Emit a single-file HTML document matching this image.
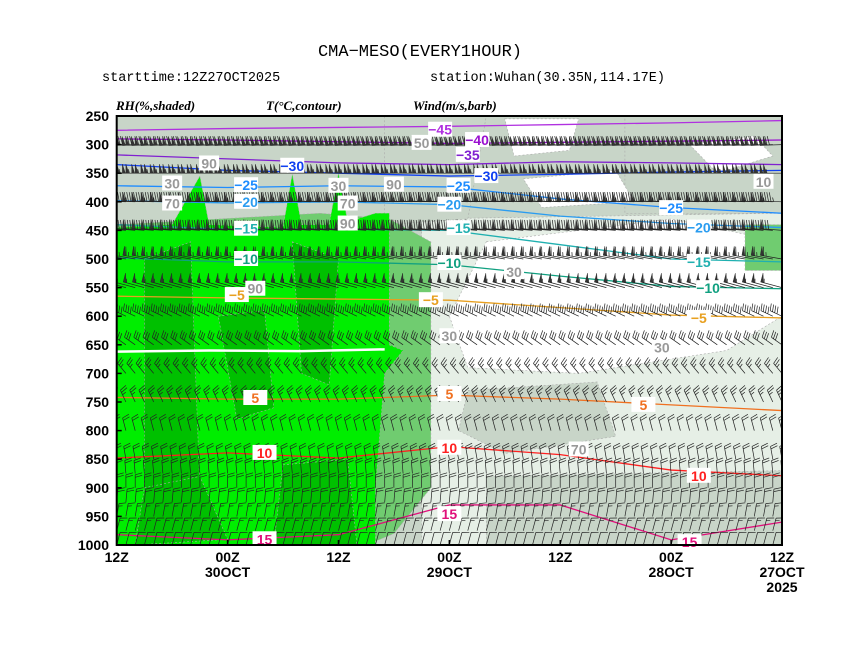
<!DOCTYPE html>
<html><head><meta charset="utf-8"><style>
html,body{margin:0;padding:0;background:#fff;}
svg{display:block;}
</style></head><body>
<svg id="chart" width="860" height="664" viewBox="0 0 860 664" style="font-family:'Liberation Sans',sans-serif">
<defs><clipPath id="plotclip"><rect x="116.7" y="116" width="665.3" height="429"/></clipPath></defs>
<text x="420" y="56" text-anchor="middle" style="font-family:'Liberation Mono',monospace;font-size:17px">CMA−MESO(EVERY1HOUR)</text>
<text x="102" y="81" style="font-family:'Liberation Mono',monospace;font-size:13.5px">starttime:12Z27OCT2025</text>
<text x="430" y="81" style="font-family:'Liberation Mono',monospace;font-size:13.5px">station:Wuhan(30.35N,114.17E)</text>
<text x="116" y="110" style="font-family:'Liberation Serif',serif;font-size:13px;font-weight:bold;font-style:italic">RH(%,shaded)</text>
<text x="266" y="110" style="font-family:'Liberation Serif',serif;font-size:13px;font-weight:bold;font-style:italic">T(°C,contour)</text>
<text x="413" y="110" style="font-family:'Liberation Serif',serif;font-size:13px;font-weight:bold;font-style:italic">Wind(m/s,barb)</text>
<g id="shade" clip-path="url(#plotclip)"></g>
<g id="contours" clip-path="url(#plotclip)"></g>
<g id="barbs" clip-path="url(#plotclip)"></g>
<g id="labels"></g>
<rect x="116.7" y="116" width="665.3" height="429" fill="none" stroke="#000" stroke-width="2"/>
<g id="axes"></g>
</svg>
<script>
// ---- data ----
const pressureTicks = [250,300,350,400,450,500,550,600,650,700,750,800,850,900,950,1000];
const hourTicks = [0,12,24,36,48,60,72];
const hourTickLabels = [["12Z"],["00Z","30OCT"],["12Z"],["00Z","29OCT"],["12Z"],["00Z","28OCT"],["12Z","27OCT","2025"]];
const contourHours = [0,12,24,36,48,60,72];
const contourLevels = [-45,-40,-35,-30,-25,-20,-15,-10,-5,5,10,15];
const contourColors = ["#b030e0","#9a10d0","#8020d0","#1040f0","#1e8cff","#2a9cf0","#20b0b0","#10a080","#e8a020","#f07020","#ff2020","#e0107a"];
const contourP = [
 [275,272,270,268,265,262,258],
 [290,292,295,298,296,294,292],
 [318,325,332,335,330,332,335],
 [335,345,350,355,352,348,345],
 [372,375,372,374,395,410,420],
 [398,402,400,405,425,438,445],
 [440,448,448,450,475,500,505],
 [498,505,505,510,530,548,552],
 [565,568,570,572,585,598,603],
 [742,745,745,738,745,755,765],
 [848,839,848,828,842,869,879],
 [982,991,982,930,930,991,960]];
const contourLabelPos = [[[35,274]],[[39,292]],[[38,318]],[[19,337],[40,355]],[[14,371],[37,372],[60,411]],[[14,400],[36,405],[63,445]],[[14,447],[37,446],[63,505]],[[14,500],[36,507],[64,551]],[[13,563],[34,572],[63,603]],[[15,743],[36,736],[57,755]],[[16,839],[36,830],[63,879]],[[16,990],[36,946],[62,995]]];
const rhLabels = [["90",10,333],["30",6,368],["70",6,403],["90",25,438],["90",15,552],["30",24,372],["70",25,403],["30",43,523],["30",36,635],["30",59,655],["70",50,833],["90",30,370],["10",70,365],["50",33,297]];
const rhLight = [[33,430],[72,420],[72,1000],[33,1000]];
const rhGrayPatches = [[[40,880],[72,870],[72,1000],[40,1000]],[[38,730],[52,715],[54,810],[42,840],[37,800]],[[29,250],[40,250],[38,430],[29,440]],[[55,250],[72,250],[72,420],[55,420]]];
const rhWhite = [[[40,470],[60,430],[72,470],[72,600],[66,660],[50,700],[38,690],[36,600]],[[42,255],[50,255],[49,310],[43,320]],[[62,300],[69,285],[71,320],[65,350]],[[44,360],[54,345],[56,400],[46,410]]];
const rhMid = [[22,420],[29.5,430],[34,470],[34,900],[30,980],[27,1000],[0,1000],[0,440]];
const rhMid2 = [[68,440],[72,440],[72,520],[68,520]];
const rhBright = [[0,445],[6,440],[9,355],[10,440],[18,445],[19,352],[20,440],[23,440],[24,350],[25,435],[28,420],[29.5,420],[29.5,650],[31,660],[29,700],[28.5,800],[28,900],[28,1000],[0,1000]];
const rhDark = [[[3,500],[8,470],[9,900],[5,960],[3,900]],[[11,600],[16,590],[17,760],[13,780]],[[19,470],[24,500],[23,720],[20,700]],[[3,900],[9,880],[12,990],[2,1000]],[[18,860],[25,850],[26,1000],[17,1000]]];
const barbLevels = [300,350,400,450,500,550,600,650,700,750,800,850,875,900,925,950,975,1000];
const barbSpeed = [48,42,38,32,26,22,16,13,11,10,9,9,8,8,8,7,6,5];
const barbDir = [268,270,272,275,280,285,295,305,320,335,345,350,355,0,5,10,15,15];
// ---- axes ----
const X0=116.7,X1=782,Y0=116,Y1=545;
const xS=h=>X0+(X1-X0)*h/72;
const yS=p=>Y0+(Y1-Y0)*(p-250)/750;
const NS="http://www.w3.org/2000/svg";
function mk(tag,attrs,parent){const e=document.createElementNS(NS,tag);for(const k in attrs)e.setAttribute(k,attrs[k]);parent.appendChild(e);return e;}
const shade=document.getElementById('shade'),cont=document.getElementById('contours'),barbs=document.getElementById('barbs'),labels=document.getElementById('labels'),axes=document.getElementById('axes');
const bg=mk('rect',{x:X0,y:Y0,width:X1-X0,height:Y1-Y0,fill:'#c8d5c8'},shade);


function poly(pts,fill,name){const e=mk('polygon',{points:pts.map(q=>xS(q[0])+','+yS(q[1])).join(' '),fill:fill,stroke:'#aaa','stroke-width':0.6,'stroke-dasharray':'2,2'},shade);

}
poly(rhLight,'#e6efe6','rh-low-region');
rhGrayPatches.forEach(g=>poly(g,'#c8d5c8','rh-mid-region'));
rhWhite.forEach(w=>poly(w,'#ffffff','rh-dry-region'));
poly(rhMid,'#70cc70','rh-80-region');
poly(rhMid2,'#70cc70','rh-80-region-right');
poly(rhBright,'#00ee00','rh-90-region');
rhDark.forEach(d=>poly(d,'#00c000','rh-95-region'));
const fz=mk('polyline',{points:[[0,662],[10,660],[20,661],[29,658]].map(q=>xS(q[0])+','+yS(q[1])).join(' '),fill:'none',stroke:'#fff','stroke-width':2.5},cont);


contourLevels.forEach((lv,i)=>{
 const pts=contourHours.map((h,j)=>xS(h)+','+yS(contourP[i][j])).join(' ');
 const l=mk('polyline',{points:pts,fill:'none',stroke:contourColors[i],'stroke-width':1.3},cont);
 
 
 contourLabelPos[i].forEach(pp=>{
  const x=xS(pp[0]),y=yS(pp[1]);const t=String(lv).replace('-','−');
  const r=mk('rect',{x:x-12,y:y-8,width:24,height:15,fill:'#fff'},labels);
  
  
  const tx=mk('text',{x:x,y:y+5,'text-anchor':'middle','font-size':14,'font-weight':'bold',fill:contourColors[i]},labels);
  tx.textContent=t;
  
  
 });
});
rhLabels.forEach(r=>{
 const x=xS(r[1]),y=yS(r[2]);
 const b=mk('rect',{x:x-10,y:y-8,width:20,height:15,fill:'#fff'},labels);
 
 
 const t=mk('text',{x:x,y:y+5,'text-anchor':'middle','font-size':14,'font-weight':'bold',fill:'#999'},labels);
 t.textContent=r[0];
 
 
});
let d='',dp='';
const f=v=>v.toFixed(1);
barbLevels.forEach((p,i)=>{
 const sp=barbSpeed[i],dir=barbDir[i]*Math.PI/180;
 const L=sp>20?22:13;
 const ux=Math.sin(dir),uy=-Math.cos(dir);
 const px=-uy,py=ux;
 const bl=sp>20?9:7;
 for(let h=0;h<=72;h++){
  const x=xS(h),y=yS(p);
  const ex=x+ux*L,ey=y+uy*L;
  d+=`M${f(x)},${f(y)}L${f(ex)},${f(ey)}`;
  let s=sp,k=0;
  while(s>=20){const bx=ex-ux*k,by=ey-uy*k;dp+=`M${f(bx)},${f(by)}l${f(px*bl)},${f(py*bl)}L${f(bx-ux*3)},${f(by-uy*3)}Z`;k+=3.5;s-=20;}
  while(s>=4){const bx=ex-ux*k,by=ey-uy*k;d+=`M${f(bx)},${f(by)}l${f(px*bl+ux*2)},${f(py*bl+uy*2)}`;s-=4;k+=2.5;}
  if(s>=2){const bx=ex-ux*k,by=ey-uy*k;d+=`M${f(bx)},${f(by)}l${f(px*4+ux)},${f(py*4+uy)}`;}
 }
});
const bp=mk('path',{d:d,fill:'none',stroke:'#222','stroke-width':0.7},barbs);


const bf=mk('path',{d:dp,fill:'#333',stroke:'#222','stroke-width':0.4},barbs);


pressureTicks.forEach(p=>{
 const y=yS(p);
 const tk=mk('line',{x1:X0,x2:X0+5,y1:y,y2:y,stroke:'#000','stroke-width':1.5},axes);
 
 
 const t=mk('text',{x:109,y:y+5,'text-anchor':'end','font-size':14,'font-weight':'bold'},axes);
 t.textContent=p;
 
 
});
hourTicks.forEach((h,i)=>{
 const x=xS(h);
 const tk=mk('line',{x1:x,x2:x,y1:Y1,y2:Y1-5,stroke:'#000','stroke-width':1.5},axes);
 
 
 hourTickLabels[i].forEach((s,j)=>{
  const t=mk('text',{x:x,y:Y1+17+j*15,'text-anchor':'middle','font-size':14,'font-weight':'bold'},axes);
  t.textContent=s;
  
  
 });
});
</script>
</body></html>
